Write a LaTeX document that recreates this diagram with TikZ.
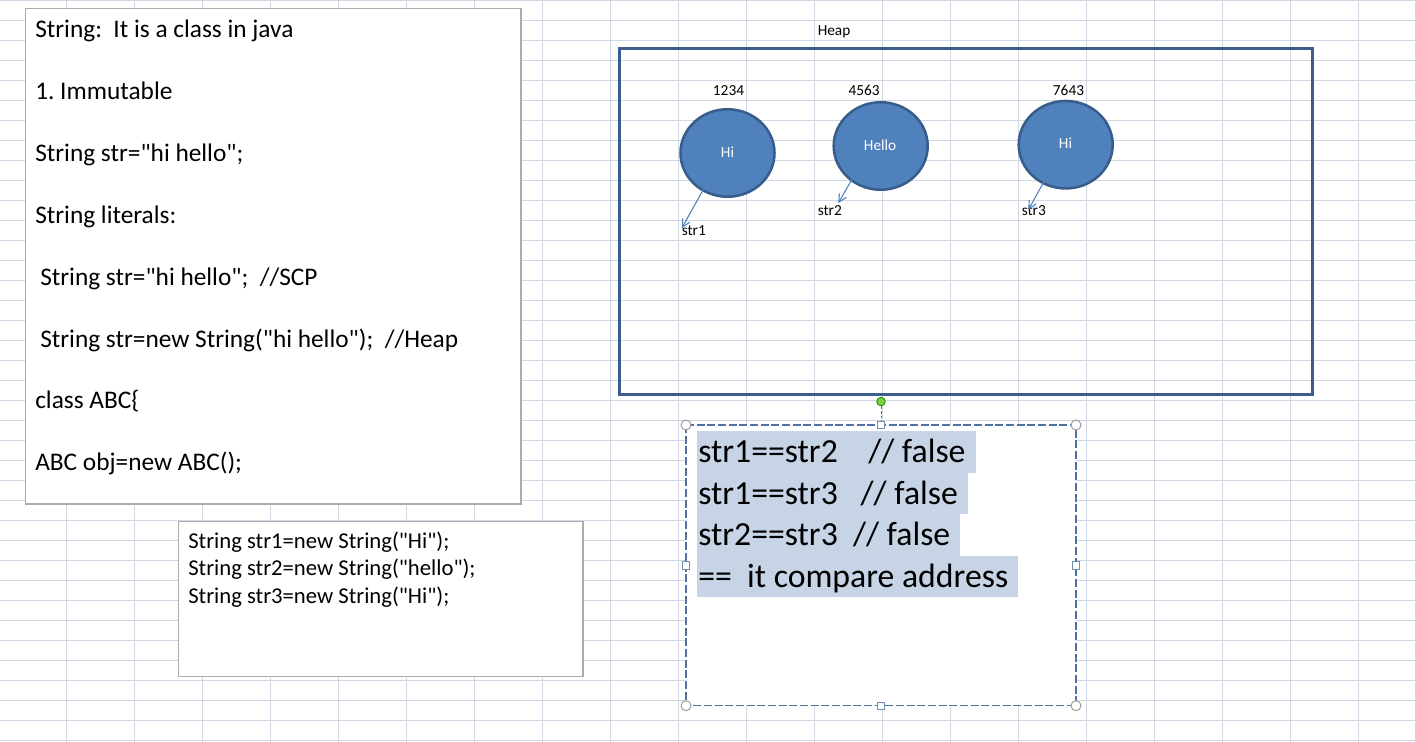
\documentclass[tikz,border=0pt]{standalone}
\usepackage{fontspec}
\setmainfont{Carlito}[Ligatures=TeXOff]
\usetikzlibrary{shapes.geometric,arrows.meta}
\frenchspacing
\definecolor{gridc}{HTML}{D0D7E5}
\definecolor{boxgray}{HTML}{ABABAB}
\definecolor{heapc}{HTML}{3B5E8C}
\definecolor{fillc}{HTML}{4F81BD}
\definecolor{outc}{HTML}{385D8A}
\definecolor{hl}{RGB}{198,212,230}
\definecolor{selc}{HTML}{4F72A0}
\definecolor{greenh}{HTML}{7ED03C}
\tikzset{
  gridline/.style={draw=gridc, line width=0.75pt},
  textbox/.style={draw=boxgray, fill=white, line width=0.8pt},
  txt/.style={anchor=base west, inner sep=0pt, text=black},
  bigtxt/.style={txt, font=\fontsize{19}{23}\selectfont},
  midtxt/.style={txt, font=\fontsize{17}{20.6}\selectfont},
  hugetxt/.style={txt, font=\fontsize{25.3}{31}\selectfont},
  smalltxt/.style={txt, font=\fontsize{11.5}{14}\selectfont},
  obj/.style={ellipse, draw=outc, fill=fillc, line width=1.9pt, inner sep=0pt,
              minimum width=70.5pt, minimum height=65.6pt},
  objtxt/.style={anchor=base west, inner sep=0pt, text=white, font=\fontsize{11.5}{14}\selectfont},
  refarrow/.style={draw=fillc, line width=0.8pt, -{Straight Barb[length=6pt,width=6pt]}},
  cornerh/.style={circle, draw=gray!80, fill=white, line width=0.7pt, inner sep=0pt, minimum size=7.5pt},
  sideh/.style={rectangle, draw=selc!80, fill=white, line width=0.7pt, inner sep=0pt, minimum size=5.5pt},
}
\begin{document}
\begin{tikzpicture}[x=0.75pt, y=-0.75pt]
\useasboundingbox (0,0) rectangle (1415,742);
\fill[white] (0,0) rectangle (1415,742);
% spreadsheet grid
\foreach \i [evaluate=\i as \gx using -1.5+68*\i] in {1,...,20}
  \draw[gridline] (\gx,0) -- (\gx,742);
\foreach \j [evaluate=\j as \gy using 20*\j+0.5] in {0,...,37}
  \draw[gridline] (0,\gy) -- (1415,\gy);

% left text box
\draw[textbox] (25.5,8.5) rectangle (521,504);
\node[bigtxt] (t1) at (35,38) {String:\ \ It is a class in java};
\node[bigtxt] (t2) at (35,99.8) {1. Immutable};
\node[bigtxt] (t3) at (35,161.6) {String str="hi hello";};
\node[bigtxt] (t4) at (35,223.4) {String literals:};
\node[bigtxt] (t5) at (40,285.2) {String str="hi hello";\ \ //SCP};
\node[bigtxt] (t6) at (40,347) {String str=new String("hi hello");\ \ //Heap};
\node[bigtxt] (t7) at (35,408.8) {class ABC\{};
\node[bigtxt] (t8) at (35,470.6) {ABC obj=new ABC();};

% second text box
\draw[textbox] (178.5,521.5) rectangle (583,676.5);
\node[midtxt] (s1) at (188,548) {String str1=new String("Hi");};
\node[midtxt] (s2) at (188,575.5) {String str2=new String("hello");};
\node[midtxt] (s3) at (188,603) {String str3=new String("Hi");};

% heap
\node[smalltxt] (heap) at (817.5,36) {Heap};
\draw[draw=heapc, line width=2.25pt] (619,48.5) rectangle (1312.5,394);

\node[obj] (c1) at (727.5,153) {};
\node[obj] (c2) at (880.7,146) {};
\node[obj] (c3) at (1065.7,144.7) {};
\node[objtxt] at (720.7,157.3) {Hi};
\node[objtxt] at (863.7,150.7) {Hello};
\node[objtxt] at (1058.7,149) {Hi};

\node[smalltxt] (a1) at (712.7,96) {1234};
\node[smalltxt] (a2) at (848.3,96) {4563};
\node[smalltxt] (a3) at (1052.7,96) {7643};

\node[smalltxt] (r1) at (681.5,235) {str1};
\node[smalltxt] (r2) at (817.5,215.7) {str2};
\node[smalltxt] (r3) at (1021.5,215.7) {str3};

\coordinate (p1s) at (713.3,171.7);
\coordinate (p1e) at (681.7,228.3);
\coordinate (p2s) at (865.7,155);
\coordinate (p2e) at (838.3,203.3);
\coordinate (p3s) at (1059,154.3);
\coordinate (p3e) at (1028.3,210);
\draw[refarrow] (p1s) -- (p1e);
\draw[refarrow] (p2s) -- (p2e);
\draw[refarrow] (p3s) -- (p3e);

% selected comparison box
\fill[white] (686,425) rectangle (1076,705.7);
\fill[hl] (697,431) rectangle (976,472.7);
\fill[hl] (697,472.7) rectangle (967.7,514);
\fill[hl] (697,514) rectangle (960,555.7);
\fill[hl] (697,555.7) rectangle (1017.7,596.7);
\node[hugetxt] (q1) at (698,462.5) {str1==str2\ \ \ \ // false};
\node[hugetxt] (q2) at (698,504) {str1==str3\ \ \ // false};
\node[hugetxt] (q3) at (698,545.7) {str2==str3\ \ // false};
\node[hugetxt] (q4) at (698,587.4) {==\ \ it compare address};
\draw[draw=selc, line width=0.8pt, dash pattern=on 6pt off 2pt] (686,425) rectangle (1076,705.7);

\node[cornerh] (h1) at (686,425) {};
\node[cornerh] (h2) at (1076,425) {};
\node[cornerh] (h3) at (686,705.7) {};
\node[cornerh] (h4) at (1076,705.7) {};
\node[sideh] (m1) at (881,425) {};
\node[sideh] (m2) at (686,565.5) {};
\node[sideh] (m3) at (1076,565.5) {};
\node[sideh] (m4) at (881,705.7) {};
\node[circle, draw=green!50!black, fill=greenh, line width=0.5pt, inner sep=0pt, minimum size=6.5pt] (rot) at (881,401.5) {};
\draw[draw=selc, line width=0.7pt, dash pattern=on 2pt off 1.5pt] (rot) -- (m1);
\end{tikzpicture}
\end{document}
